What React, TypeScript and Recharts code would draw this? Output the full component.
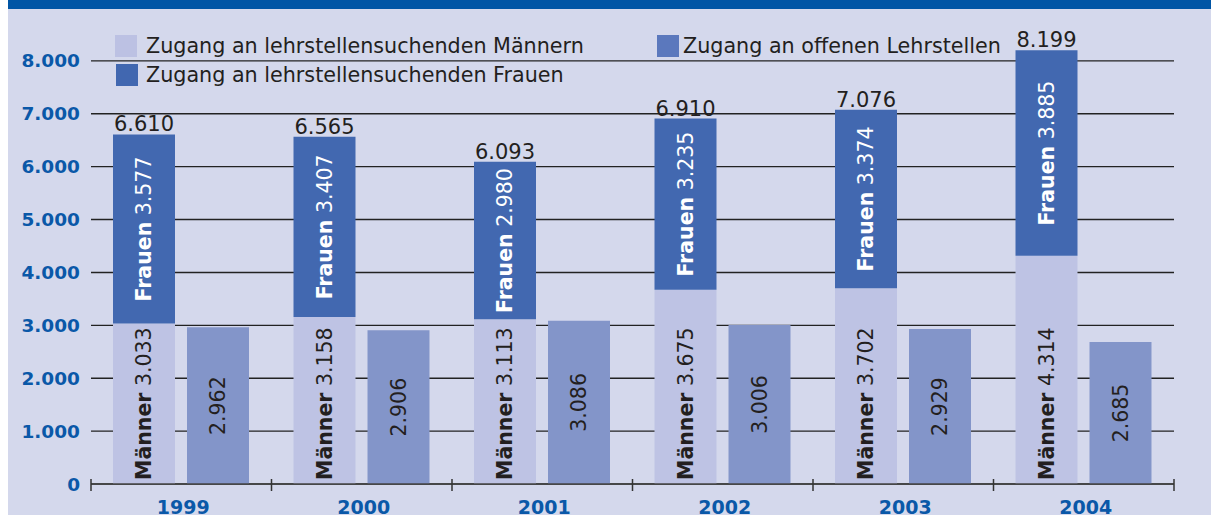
import { BarChart, Bar, XAxis, YAxis, CartesianGrid, LabelList } from "recharts";

const years = ["1999", "2000", "2001", "2002", "2003", "2004"];
const maenner = [3033, 3158, 3113, 3675, 3702, 4314];
const frauen = [3577, 3407, 2980, 3235, 3374, 3885];
const lehrstellen = [2962, 2906, 3086, 3006, 2929, 2685];
const yTicks = [0, 1000, 2000, 3000, 4000, 5000, 6000, 7000, 8000];

const legendItems = [
  { name: "Zugang an lehrstellensuchenden Männern", color: "#bcc1e3", left: 107, top: 35, gap: 9 },
  { name: "Zugang an offenen Lehrstellen", color: "#5b78bd", left: 649, top: 35, gap: 4 },
  { name: "Zugang an lehrstellensuchenden Frauen", color: "#4167b0", left: 108, top: 64, gap: 8 },
];

const data = years.map((year, i) => ({
  year,
  maenner: maenner[i],
  frauen: frauen[i],
  lehrstellen: lehrstellen[i],
  total: maenner[i] + frauen[i],
}));

const FONT = "'DejaVu Sans', sans-serif";
const INK = "#231f20";
const AXIS_BLUE = "#0a58a8";
const BG = "#d4d8ec";

// german thousands separator
function fmt(v: number) {
  return String(v).replace(/\B(?=(\d{3})+(?!\d))/g, ".");
}

function box(props: any) {
  const vb = props.viewBox || {};
  return {
    x: Number(props.x ?? vb.x),
    y: Number(props.y ?? vb.y),
    w: Number(props.width ?? vb.width),
    h: Number(props.height ?? vb.height),
  };
}

const renderTotal = (props: any) => {
  const { x, y, w } = box(props);
  return (
    <text x={x + w / 2} y={y - 3} textAnchor="middle" fontFamily={FONT} fontSize={21} fill={INK}>
      {fmt(props.value)}
    </text>
  );
};

const renderFrauen = (props: any) => {
  const { x, y, w, h } = box(props);
  const cx = x + w / 2;
  const cy = y + h / 2;
  return (
    <text x={cx} y={cy} dy="0.36em" transform={`rotate(-90 ${cx} ${cy})`} textAnchor="middle"
      fontFamily={FONT} fontSize={20.5} fill="#ffffff">
      <tspan fontWeight="bold">Frauen</tspan>
      <tspan>{" " + fmt(props.value)}</tspan>
    </text>
  );
};

const renderMaenner = (props: any) => {
  const { x, y, w, h } = box(props);
  const cx = x + w / 2;
  const by = y + h - 4;
  return (
    <text x={cx} y={by} dy="0.36em" transform={`rotate(-90 ${cx} ${by})`} textAnchor="start"
      fontFamily={FONT} fontSize={20.5} fill={INK}>
      <tspan fontWeight="bold">Männer</tspan>
      <tspan>{" " + fmt(props.value)}</tspan>
    </text>
  );
};

const renderLehrstellen = (props: any) => {
  const { x, y, w, h } = box(props);
  const cx = x + w / 2;
  const cy = y + h / 2;
  return (
    <text x={cx} y={cy} dy="0.36em" transform={`rotate(-90 ${cx} ${cy})`} textAnchor="middle"
      fontFamily={FONT} fontSize={20.5} fill={INK}>
      {fmt(props.value)}
    </text>
  );
};

const TICK_MARGIN = 17;

const YearTick = (props: any) => {
  const { x, y, payload, index, visibleTicksCount } = props;
  const axisY = y - TICK_MARGIN;
  const half = payload?.offset ?? 90.25;
  const last = index === (visibleTicksCount ?? years.length) - 1;
  return (
    <g>
      <line x1={x - half} x2={x - half} y1={axisY - 5} y2={axisY + 7} stroke="#333" strokeWidth={1.5} />
      {last && <line x1={x + half} x2={x + half} y1={axisY - 5} y2={axisY + 7} stroke="#333" strokeWidth={1.5} />}
      <text x={x + 2} y={y} dy="0.71em" textAnchor="middle" fontFamily={FONT} fontSize={19} fontWeight="bold" fill={AXIS_BLUE}>
        {payload.value}
      </text>
    </g>
  );
};

export default function App() {
  return (
    <div style={{ position: "absolute", left: 8, top: 0, width: 1203, height: 515, background: BG, overflow: "hidden" }}>
      <div style={{ position: "absolute", left: 0, top: 0, width: "100%", height: 9, background: "#0055a5", zIndex: 2 }} />
      <BarChart width={1203} height={515} data={data} margin={{ top: 8, right: 37, left: 0, bottom: 0 }}
        barSize={62} barGap={12}>
        <CartesianGrid vertical={false} stroke="#222" strokeWidth={1.4} />
        <YAxis
          domain={[0, 9000]}
          ticks={yTicks}
          width={83}
          axisLine={false}
          tickLine={false}
          tickSize={0}
          tickMargin={11}
          tickFormatter={fmt}
          tick={{ fill: AXIS_BLUE, fontSize: 18.5, fontWeight: "bold", fontFamily: FONT }}
        />
        <XAxis
          dataKey="year"
          height={31}
          tickLine={false}
          tickSize={0}
          tickMargin={TICK_MARGIN}
          axisLine={{ stroke: "#444", strokeWidth: 1.5 }}
          tick={<YearTick />}
          interval={0}
        />
        <Bar dataKey="maenner" stackId="a" fill="#bec3e4" isAnimationActive={false}>
          <LabelList dataKey="maenner" content={renderMaenner} />
        </Bar>
        <Bar dataKey="frauen" stackId="a" fill="#4268b0" isAnimationActive={false}>
          <LabelList dataKey="frauen" content={renderFrauen} />
          <LabelList dataKey="total" content={renderTotal} />
        </Bar>
        <Bar dataKey="lehrstellen" fill="#8395c9" isAnimationActive={false}>
          <LabelList dataKey="lehrstellen" content={renderLehrstellen} />
        </Bar>
      </BarChart>
      {legendItems.map((item) => (
        <div key={item.name} style={{ position: "absolute", left: item.left, top: item.top, display: "flex", alignItems: "center", height: 22 }}>
          <div style={{ width: 22, height: 22, background: item.color }} />
          <span style={{ marginLeft: item.gap, fontFamily: FONT, fontSize: 20.7, lineHeight: "22px", color: INK, whiteSpace: "nowrap" }}>
            {item.name}
          </span>
        </div>
      ))}
    </div>
  );
}
